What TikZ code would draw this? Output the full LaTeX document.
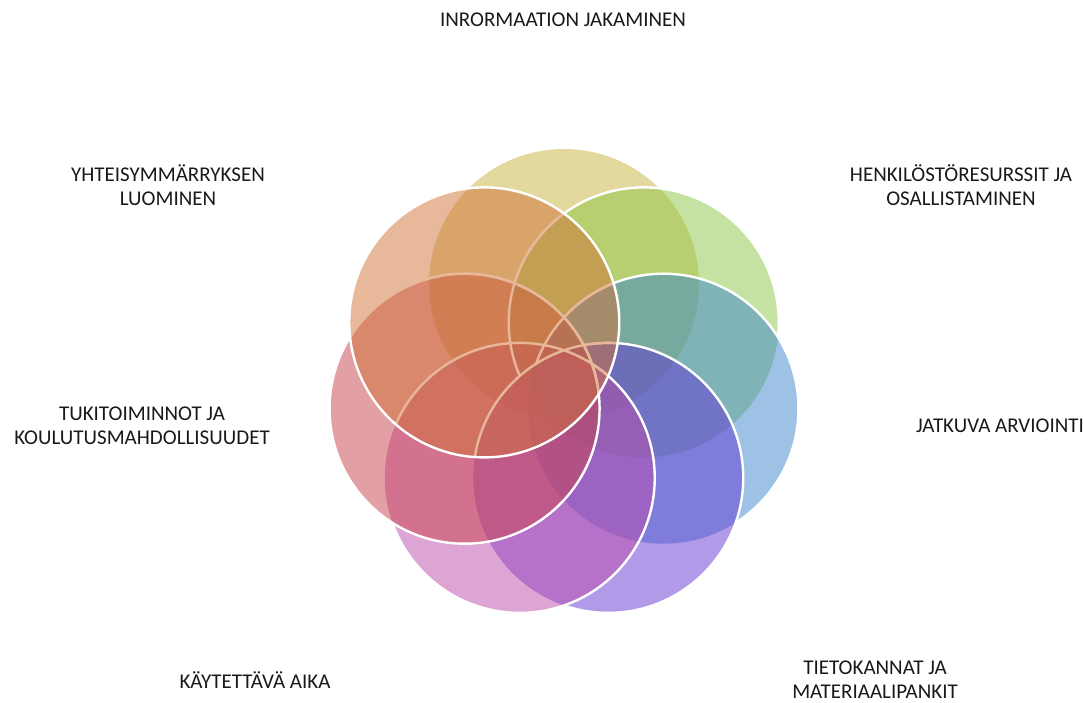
\documentclass[tikz,border=0pt]{standalone}
\usepackage{fontspec}
\setmainfont{Carlito}
\definecolor{cYellow}{RGB}{199,177,61}
\definecolor{cGreen}{RGB}{139,197,71}
\definecolor{cBlue}{RGB}{59,133,205}
\definecolor{cPurple}{RGB}{99,55,209}
\definecolor{cMagenta}{RGB}{187,75,169}
\definecolor{cRed}{RGB}{199,65,73}
\definecolor{cSalmon}{RGB}{209,113,55}
% clip away the inside of one circle (used inside an even-odd scope)
\newcommand\petalhole[1]{\clip (-20,-20) rectangle (1103,722) (#1) circle (\rad);}
\begin{document}
\begin{tikzpicture}[x=1pt,y=1pt,
  petal/.style={fill=#1, fill opacity=0.5, draw=none},
  rim/.style={draw=white, line width=2.4pt},
  lbl/.style={font=\fontsize{21}{24}\selectfont, align=center, inner sep=0pt, text=black!90}]
\useasboundingbox (0,0) rectangle (1083,702);
\def\rad{135}
\coordinate (ctr) at (564,316);
\foreach \n/\k in {cy/0,cg/1,cb/2,cp/3,cm/4,cr/5,cs/6}
  \path (ctr) ++ ({90-\k*360/7}:102) coordinate (\n);

% petals, each rim hidden under the petals that follow it
\fill[petal=cYellow] (cy) circle (\rad);
\fill[petal=cGreen] (cg) circle (\rad);
\begin{scope}[even odd rule]
  \petalhole{cb}\petalhole{cp}\petalhole{cm}\petalhole{cr}
  \draw[rim] (cg) circle (\rad);
\end{scope}
\fill[petal=cBlue] (cb) circle (\rad);
\begin{scope}[even odd rule]
  \petalhole{cp}\petalhole{cm}\petalhole{cr}
  \draw[rim] (cb) circle (\rad);
\end{scope}
\fill[petal=cPurple] (cp) circle (\rad);
\begin{scope}[even odd rule]
  \petalhole{cm}\petalhole{cr}
  \draw[rim] (cp) circle (\rad);
\end{scope}
\fill[petal=cMagenta] (cm) circle (\rad);
\begin{scope}[even odd rule]
  \petalhole{cr}
  \draw[rim] (cm) circle (\rad);
\end{scope}
\fill[petal=cRed] (cr) circle (\rad);
\draw[rim] (cr) circle (\rad);

% rims seen through the last petal
\begin{scope}[even odd rule]
  \clip (cs) circle (\rad);
  \draw[rim] (cp) circle (\rad) (cm) circle (\rad) (cr) circle (\rad);
  \petalhole{cp}
  \draw[rim] (cg) circle (\rad) (cb) circle (\rad);
\end{scope}
\fill[petal=cSalmon] (cs) circle (\rad);
\draw[rim] (cs) circle (\rad);

% labels (base anchor = baseline of the last line)
\node[lbl, anchor=base] (t0) at (563,675) {INRORMAATION JAKAMINEN};
\node[lbl, anchor=base] (t1) at (961,496) {HENKILÖSTÖRESURSSIT JA\\OSALLISTAMINEN};
\node[lbl, anchor=base] (t2) at (1000,270) {JATKUVA ARVIOINTI};
\node[lbl, anchor=base] (t3) at (875,4) {TIETOKANNAT JA\\MATERIAALIPANKIT};
\node[lbl, anchor=base] (t4) at (255,14) {KÄYTETTÄVÄ AIKA};
\node[lbl, anchor=base] (t5) at (142,258) {TUKITOIMINNOT JA\\KOULUTUSMAHDOLLISUUDET};
\node[lbl, anchor=base] (t6) at (168,496) {YHTEISYMMÄRRYKSEN\\LUOMINEN};
\end{tikzpicture}
\end{document}
